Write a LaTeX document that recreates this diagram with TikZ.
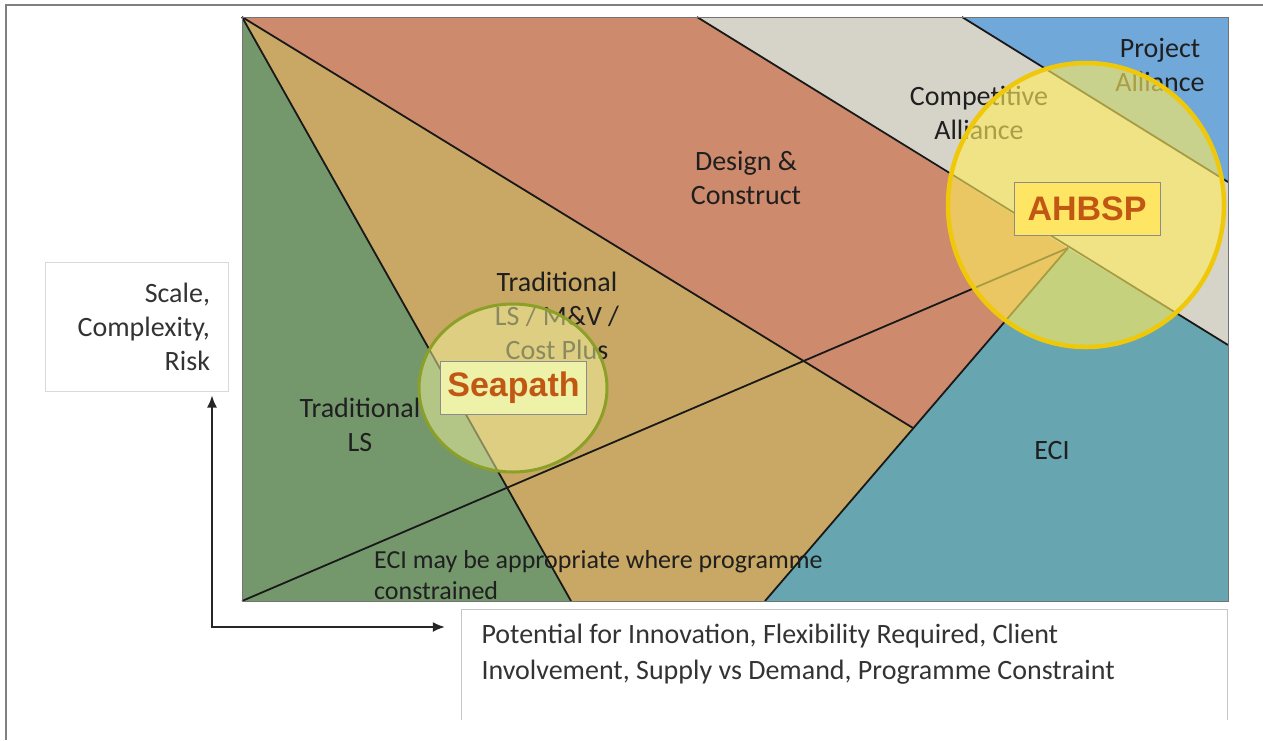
\documentclass[tikz,border=0pt]{standalone}
\usepackage{fontspec}
\setmainfont{Carlito}
\newfontfamily\tagfont{Liberation Sans}
\usepackage{xcolor}
\usetikzlibrary{
    arrows.meta,
    positioning,
    calc
}

\definecolor{lsgreen}{RGB}{116,152,108}
\definecolor{lstan}{RGB}{200,168,100}
\definecolor{dcorange}{RGB}{205,138,108}
\definecolor{cagray}{RGB}{214,212,200}
\definecolor{pablue}{RGB}{112,168,218}
\definecolor{eciteal}{RGB}{103,166,176}
\definecolor{seaedge}{RGB}{140,160,40}
\definecolor{seafill}{RGB}{245,245,160}
\definecolor{ahedge}{RGB}{240,200,10}
\definecolor{ahfill}{RGB}{255,237,94}
\definecolor{tagtext}{RGB}{192,88,20}

\begin{document}
\begin{tikzpicture}[
x=1pt, y=-1pt,
edge/.style={
draw=black!90,
line width=1.8pt
},
zone/.style={
font=\fontsize{28}{34}\selectfont,
align=center,
text=black!88,
inner sep=0pt
},
infobox/.style={
draw=gray!30,
line width=1pt,
inner sep=0pt,
font=\fontsize{28}{34}\selectfont,
text=black!80
},
tag/.style={
draw=black!45,
line width=0.8pt,
minimum width=146pt,
minimum height=53pt,
inner sep=0pt,
font=\tagfont\bfseries\fontsize{34}{40}\selectfont,
text=tagtext
},
axis/.style={
{Latex[length=12pt,width=10pt]}-{Latex[length=12pt,width=10pt]},
line width=1.6pt,
draw=black!85
}
]
\useasboundingbox (0,0) rectangle (1263,740);

% outer frame
\draw[gray, line width=2.5pt] (1263,5) -| (6,740);

% corners of the chart and where the zone lines meet
\coordinate (tl) at (242,17);
\coordinate (tr) at (1228,17);
\coordinate (br) at (1228,601);
\coordinate (bl) at (242,601);
\coordinate (g1) at (571,601);
\coordinate (t1) at (913,428);
\coordinate (e1) at (765,601);
\coordinate (hub) at (1068,248);
\coordinate (c1) at (697,17);
\coordinate (c2) at (1228,345);
\coordinate (p1) at (962,17);
\coordinate (p2) at (1228,182);

% zones
\fill[lsgreen] (tl) -- (g1) -- (bl) -- cycle;
\fill[lstan] (tl) -- (t1) -- (e1) -- (g1) -- cycle;
\fill[dcorange] (tl) -- (c1) -- (hub) -- (t1) -- cycle;
\fill[cagray] (c1) -- (p1) -- (p2) -- (c2) -- cycle;
\fill[pablue] (p1) -- (tr) -- (p2) -- cycle;
\fill[eciteal] (e1) -- (hub) -- (c2) -- (br) -- cycle;

\draw[edge] (tl) -- (g1);
\draw[edge] (tl) -- (t1);
\draw[edge] (c1) -- (c2);
\draw[edge] (p1) -- (p2);
\draw[edge] (e1) -- (hub);
\draw[edge] (bl) -- (hub);
\draw[black!55, line width=1pt] (tl) rectangle (br);

% zone labels
\node[zone] (alliance) at (1160,65) {Project\\Alliance};
\node[zone] (competitive) at (979,113) {Competitive\\Alliance};
\node[zone] (dandc) at (746,178) {Design \&\\Construct};
\node[zone] (tradmv) at (557,316) {Traditional\\LS / M\&V /\\Cost Plus};
\node[zone] (tradls) at (360,425) {Traditional\\LS};
\node[zone] (eci) at (1052,450) {ECI};
\node[zone, anchor=west, align=left,
font=\fontsize{26}{31}\selectfont] (ecinote) at (374,575)
{ECI may be appropriate where programme\\constrained};

% highlighted projects
\draw[draw=seaedge, line width=3pt, fill=seafill, fill opacity=0.5]
(513,388) ellipse [x radius=94pt, y radius=84pt];
\draw[draw=ahedge, line width=4.5pt, fill=ahfill, fill opacity=0.62]
(1086,205) ellipse [x radius=138pt, y radius=142pt];

\node[tag, fill={rgb,255:red,238;green,241;blue,168}] (seapath)
at (513.5,388) {Seapath};
\node[tag, fill={rgb,255:red,255;green,229;blue,100}] (ahbsp)
at (1087,209) {AHBSP};

% axes
\node[infobox, minimum width=183pt, minimum height=129pt,
text width=147pt, align=right] (scale)
at (136.5,326.5) {Scale,\\Complexity,\\Risk};

\node[minimum width=765pt, minimum height=110pt, inner sep=0pt] (drivers)
at (844.5,665) {};
\draw[gray!45, line width=1pt]
(drivers.south west) -- (drivers.north west)
-- (drivers.north east) -- (drivers.south east);
\node[infobox, draw=none, anchor=west, align=left,
font=\fontsize{28}{36}\selectfont] (drivertext)
at (481,654)
{Potential for Innovation, Flexibility Required, Client\\Involvement, Supply vs Demand, Programme Constraint};

\coordinate (corner) at (212,627);
\draw[axis, shorten <=4pt, shorten >=17pt]
(scale.south -| corner) |- (drivers.west |- corner);

\end{tikzpicture}
\end{document}
